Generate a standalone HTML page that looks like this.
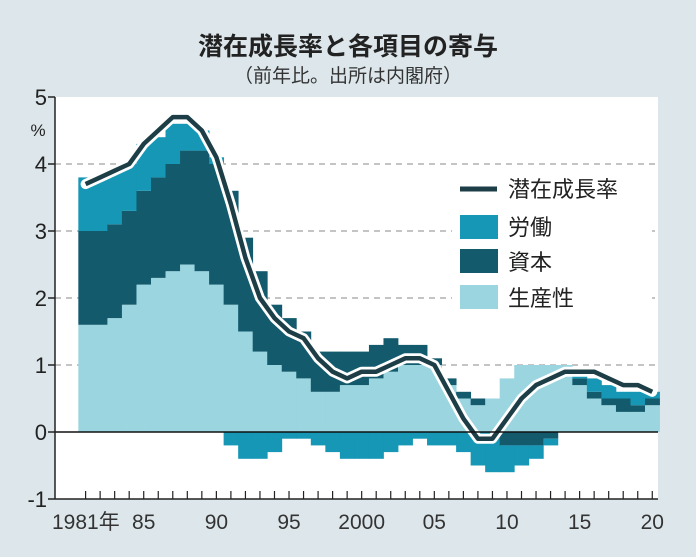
<!DOCTYPE html>
<html><head><meta charset="utf-8">
<style>
html,body{margin:0;padding:0;background:#dde7eb;}
svg{display:block;font-family:"Liberation Sans","Noto Sans CJK JP",sans-serif;}
</style></head>
<body>
<svg id="chart" width="696" height="557" viewBox="0 0 696 557">
<rect x="0" y="0" width="696" height="557" fill="#dde7eb"/>
<text x="348" y="55" text-anchor="middle" font-size="25" font-weight="bold" fill="#222">潜在成長率と各項目の寄与</text>
<text x="348" y="82" text-anchor="middle" font-size="19" fill="#333">（前年比。出所は内閣府）</text>
<rect x="55" y="97" width="603" height="402" fill="#fff"/>
<g id="grid"></g>
<g id="bars"></g>
<g id="line"></g>
<g id="axes"></g>
<g>
  <rect x="452" y="172" width="200" height="140" fill="#fff"/>
  <line x1="460" y1="189" x2="497" y2="189" stroke="#1d3e46" stroke-width="5"/>
  <text x="508" y="197" font-size="22" fill="#222">潜在成長率</text>
  <rect x="460" y="215" width="38" height="24" fill="#1597b5"/>
  <text x="508" y="235" font-size="22" fill="#222">労働</text>
  <rect x="460" y="249" width="38" height="24" fill="#135a6c"/>
  <text x="508" y="270" font-size="22" fill="#222">資本</text>
  <rect x="460" y="285" width="38" height="24" fill="#9bd5e0"/>
  <text x="508" y="306" font-size="22" fill="#222">生産性</text>
</g>
</svg>
<script>
const years = [1981,1982,1983,1984,1985,1986,1987,1988,1989,1990,1991,1992,1993,1994,1995,1996,1997,1998,1999,2000,2001,2002,2003,2004,2005,2006,2007,2008,2009,2010,2011,2012,2013,2014,2015,2016,2017,2018,2019,2020];
const productivity = [1.6,1.6,1.7,1.9,2.2,2.3,2.4,2.5,2.4,2.2,1.9,1.5,1.2,1.0,0.9,0.8,0.6,0.6,0.7,0.7,0.8,0.9,1.0,1.0,1.0,0.7,0.5,0.4,0.5,0.8,1.0,1.0,1.0,1.0,0.7,0.5,0.4,0.3,0.3,0.4];
const capital = [1.4,1.4,1.4,1.4,1.4,1.5,1.6,1.7,1.8,1.8,1.7,1.4,1.2,0.9,0.8,0.7,0.6,0.6,0.5,0.5,0.5,0.5,0.3,0.3,0.1,0.1,0.1,0.1,0,-0.2,-0.2,-0.2,-0.1,0,0.1,0.1,0.1,0.2,0.1,0.1];
const labor = [0.8,0.8,0.8,0.7,0.7,0.6,0.6,0.4,0.3,0.1,-0.2,-0.4,-0.4,-0.3,-0.1,-0.1,-0.2,-0.3,-0.4,-0.4,-0.4,-0.3,-0.2,-0.1,-0.2,-0.2,-0.3,-0.5,-0.6,-0.4,-0.3,-0.2,-0.1,0,0.1,0.2,0.2,0.1,0.2,0.1];
const potential = [3.7,3.8,3.9,4.0,4.3,4.5,4.7,4.7,4.5,4.1,3.4,2.6,2.0,1.7,1.5,1.4,1.1,0.9,0.8,0.9,0.9,1.0,1.1,1.1,1.0,0.6,0.2,-0.1,-0.1,0.2,0.5,0.7,0.8,0.9,0.9,0.9,0.8,0.7,0.7,0.6];
const yTicks = [-1,0,1,2,3,4,5];
const xLabels = [[1981,"1981年"],[1985,"85"],[1990,"90"],[1995,"95"],[2000,"2000"],[2005,"05"],[2010,"10"],[2015,"15"],[2020,"20"]];

const NS="http://www.w3.org/2000/svg";
const X0=55, X1=658, Y0=97, Y1=499;
const step=14.53;
function xs(yr){return 85.6+(yr-1981)*step;}
function ys(v){return 432-v*67;}
function mk(tag,attrs,parent){const e=document.createElementNS(NS,tag);for(const k in attrs)e.setAttribute(k,attrs[k]);parent.appendChild(e);return e;}

const grid=document.getElementById('grid');
yTicks.forEach(t=>{
  if(t>0&&t<5){
    const g=mk('line',{x1:X0,x2:X1,y1:ys(t),y2:ys(t),stroke:'#888','stroke-width':1,'stroke-dasharray':'6,5'},grid);
    
    
  }
});

const bars=document.getElementById('bars');
const colors={prod:'#9bd5e0',cap:'#135a6c',lab:'#1597b5'};
years.forEach((yr,i)=>{
  let pos=0,neg=0;
  [['prod',productivity[i]],['cap',capital[i]],['lab',labor[i]]].forEach(([k,v])=>{
    if(v===0)return;
    let a,b;
    if(v>0){a=pos;b=pos+v;pos=b;}else{a=neg;b=neg+v;neg=b;}
    const r=mk('rect',{x:(xs(yr)-step/2).toFixed(2),width:(step+0.4).toFixed(2),y:ys(Math.max(a,b)).toFixed(2),height:(Math.abs(v)*67).toFixed(2),fill:colors[k]},bars);
    
    
  });
});

const lineG=document.getElementById('line');
const pts=years.map((yr,i)=>xs(yr).toFixed(2)+','+ys(potential[i]).toFixed(2)).join(' ');
const halo=mk('polyline',{points:pts,fill:'none',stroke:'#fff','stroke-width':10,'stroke-linejoin':'round','stroke-linecap':'round'},lineG);


const ln=mk('polyline',{points:pts,fill:'none',stroke:'#1d3e46','stroke-width':4.5,'stroke-linejoin':'round'},lineG);



const axes=document.getElementById('axes');
const zl=mk('line',{x1:X0,x2:X1,y1:ys(0),y2:ys(0),stroke:'#111','stroke-width':1.5},axes);


const ya=mk('line',{x1:X0,x2:X0,y1:Y0,y2:Y1,stroke:'#222','stroke-width':1.5},axes);


const xa=mk('line',{x1:X0,x2:X1,y1:Y1,y2:Y1,stroke:'#222','stroke-width':1.5},axes);


yTicks.forEach(t=>{
  const tk=mk('line',{x1:X0-7,x2:X0,y1:ys(t),y2:ys(t),stroke:'#222','stroke-width':1.5},axes);
  
  
  const tx=mk('text',{x:47,y:ys(t)+8,'text-anchor':'end','font-size':22,fill:'#222'},axes);
  tx.textContent=String(t);
  
  
});
const pc=mk('text',{x:38,y:136,'text-anchor':'middle','font-size':17,fill:'#222'},axes);
pc.textContent='%';


years.forEach(yr=>{
  const tk=mk('line',{x1:xs(yr),x2:xs(yr),y1:Y1-8,y2:Y1,stroke:'#222','stroke-width':1.2},axes);
  
  
});
xLabels.forEach(([yr,lab])=>{
  const anchor = yr===1981 ? 'start' : 'middle';
  const xx = yr===1981 ? 52 : xs(yr);
  const tx=mk('text',{x:xx,y:529,'text-anchor':anchor,'font-size':21,fill:'#333'},axes);
  tx.textContent=lab;
  
  
});
</script>
</body></html>
